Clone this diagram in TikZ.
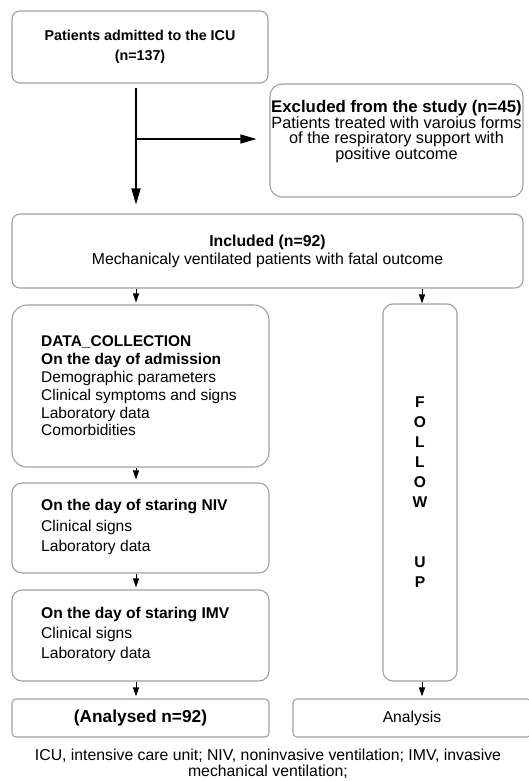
\documentclass[tikz,border=0pt]{standalone}
\usepackage{fontspec}
\setmainfont{Liberation Sans}
\usetikzlibrary{arrows.meta}
\definecolor{boxgray}{HTML}{A0A0A0}
\begin{document}
\begin{tikzpicture}[x=1pt,y=-1pt,
  box/.style={draw=boxgray, line width=1.1pt, rounded corners=#1, inner sep=0pt},
  box/.default=8pt,
  txt/.style={inner sep=0pt, align=center},
  ltxt/.style={inner sep=0pt, align=left, anchor=west},
  bigarr/.style={line width=1.3pt, -{Triangle[length=16pt,width=9pt]}},
  smarr/.style={line width=1pt, -{Triangle[length=9pt,width=6pt]}}
]
\useasboundingbox (0,0) rectangle (529,781);

% top box
\node[box=8pt, minimum width=256pt, minimum height=72pt, align=center,
  font=\fontsize{14.3}{20}\selectfont\bfseries] (top) at (140,47)
  {Patients admitted to the ICU\\(n=137)};

% excluded box
\node[box=12pt, minimum width=253pt, minimum height=113pt] (excl) at (396.5,140.5) {};
\node[txt, font=\fontsize{16.3}{15.7}\selectfont] (excltxt) at (396.5,131.5)
  {{\fontsize{16.8}{15.7}\selectfont\bfseries Excluded from the study (n=45)}\\Patients treated with varoius forms\\of the respiratory support with\\positive outcome};

% included box
\node[box=8pt, minimum width=511pt, minimum height=74pt, align=center,
  font=\fontsize{15.8}{18}\selectfont] (inc) at (267.5,251)
  {\textbf{Included (n=92)}\\Mechanicaly ventilated patients with fatal outcome};

% data collection
\node[box=15pt, minimum width=257pt, minimum height=162pt] (dc) at (140.5,386) {};
\node[ltxt, font=\fontsize{15.5}{17.8}\selectfont] (dctxt) at (41,386)
  {\textbf{DATA\_COLLECTION}\\\textbf{On the day of admission}\\Demographic parameters\\Clinical symptoms and signs\\Laboratory data\\Comorbidities};

% NIV
\node[box=10pt, minimum width=257pt, minimum height=90pt] (niv) at (140.5,528) {};
\node[ltxt, font=\fontsize{15.6}{20.5}\selectfont] (nivtxt) at (41,527)
  {\textbf{On the day of staring NIV}\\Clinical signs\\Laboratory data};

% IMV
\node[box=10pt, minimum width=257pt, minimum height=91pt] (imv) at (140.5,635.5) {};
\node[ltxt, font=\fontsize{15.6}{20}\selectfont] (imvtxt) at (41,634.5)
  {\textbf{On the day of staring IMV}\\Clinical signs\\Laboratory data};

% analysed
\node[box=4pt, minimum width=257pt, minimum height=38pt,
  font=\fontsize{17.3}{18}\selectfont\bfseries] (anad) at (140.5,718) {(Analysed n=92)};

% follow up
\node[box=10pt, minimum width=74pt, minimum height=377pt, align=center,
  font=\fontsize{15.6}{20}\selectfont\bfseries] (fol) at (420,492.5)
  {F\\O\\L\\L\\O\\W\\[40pt]U\\P};

% analysis
\node[box=4pt, minimum width=238pt, minimum height=38pt,
  font=\fontsize{15.7}{16}\selectfont] (anal) at (412,718) {Analysis};

% caption
\node[txt, font=\fontsize{15.8}{16}\selectfont] (cap) at (268,764)
  {ICU, intensive care unit; NIV, noninvasive ventilation; IMV, invasive\\mechanical ventilation;};

% arrows
\draw[bigarr, shorten <=4pt, shorten >=9pt] ([xshift=-4pt]top.south) -- ([xshift=-4pt]top.south |- inc.north);
\coordinate (br) at (136,139);
\draw[bigarr, shorten >=13pt] (br) -- (br -| excl.west);

\draw[smarr, shorten >=2pt] ([xshift=-4.5pt]dc.north |- inc.south) -- ([xshift=-4.5pt]dc.north);
\draw[smarr] ([xshift=2pt]fol.north |- inc.south) -- ([xshift=2pt]fol.north);
\draw[smarr, shorten >=3pt] ([xshift=-4.5pt]dc.south) -- ([xshift=-4.5pt]niv.north);
\draw[smarr, shorten >=2pt] ([xshift=-4.5pt]niv.south) -- ([xshift=-4.5pt]imv.north);
\draw[smarr, shorten >=2pt] ([xshift=-4.5pt]imv.south) -- ([xshift=-4.5pt]anad.north);
\draw[smarr, shorten >=2pt] ([xshift=2pt]fol.south) -- ([xshift=2pt]fol.south |- anal.north);
\end{tikzpicture}
\end{document}
